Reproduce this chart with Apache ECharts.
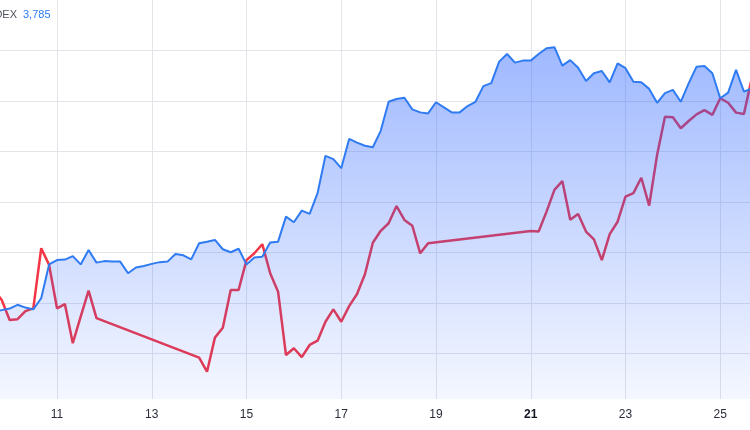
<!DOCTYPE html>
<html><head><meta charset="utf-8">
<script src="https://cdn.jsdelivr.net/npm/echarts@6/dist/echarts.min.js"></script>
<style>html,body{margin:0;padding:0;background:#fff}#c{width:750px;height:430px}</style>
</head><body><div id="c"></div>
<script>
// x tick labels (day of month) and the emphasised one
const dayTicks = [11, 13, 15, 17, 19, 21, 23, 25];
const boldTick = 21;
// 4-hour bars: first visible bar time (day) and step (days)
const firstDay = 9 + 2 / 3;
const barStep = 1 / 6;
// legend texts
const legendName = 'DEX';
const legendValue = '3,785';
// main series (blue area), one value per 4-hour bar
const blueValues = [
  3696.5, 3697.2, 3697.8, 3699.3, 3698.2, 3697.5, 3701.9, 3715.3,
  3717.0, 3717.2, 3718.6, 3715.3, 3721.0, 3716.0, 3716.6, 3716.4,
  3716.4, 3711.8, 3714.1, 3714.7, 3715.5, 3716.2, 3716.4, 3719.4,
  3718.9, 3717.3, 3723.7, 3724.3, 3725.0, 3721.3, 3720.1, 3721.5,
  3715.3, 3718.0, 3718.3, 3724.0, 3724.3, 3734.2, 3732.0, 3736.6,
  3735.3, 3743.5, 3758.3, 3757.0, 3753.4, 3765.0, 3763.5, 3762.3,
  3761.7, 3768.2, 3779.7, 3780.8, 3781.3, 3776.7, 3775.5, 3775.1,
  3779.5, 3777.5, 3775.5, 3775.5, 3778.0, 3779.7, 3785.9, 3787.1,
  3795.6, 3798.6, 3795.2, 3796.0, 3796.0, 3798.6, 3800.9, 3801.3,
  3794.0, 3796.2, 3793.2, 3787.9, 3791.0, 3791.9, 3787.4, 3794.9,
  3793.0, 3787.6, 3787.4, 3784.8, 3779.3, 3783.1, 3784.4, 3779.7,
  3787.0, 3793.6, 3793.9, 3791.0, 3781.1, 3783.3, 3792.3, 3783.7,
  3785.0
];
// comparison series (red line), null = no trading (weekend)
const redValues = [
  3705.2, 3701.2, 3693.3, 3693.6, 3696.8, 3697.9, 3721.7, 3715.1,
  3697.9, 3699.6, 3684.1, 3694.6, 3704.9, 3694.0,
  null, null, null, null, null, null, null, null, null, null, null, null,
  3678.4, 3672.8, 3686.3, 3690.2, 3705.2, 3705.2, 3717.0, 3719.7,
  3723.3, 3711.8, 3704.5, 3679.4, 3682.1, 3678.6, 3683.4, 3685.1,
  3692.6, 3697.5, 3692.6, 3698.8, 3703.6, 3711.4, 3723.9, 3728.6,
  3731.6, 3738.4, 3732.9, 3730.6, 3719.7, 3723.7,
  null, null, null, null, null, null, null, null, null, null, null, null,
  3728.5, 3728.3, 3736.2, 3744.8, 3748.3, 3733.0, 3735.3, 3728.3,
  3725.2, 3717.0, 3727.3, 3732.2, 3742.1, 3743.5, 3749.6, 3738.6,
  3758.6, 3773.8, 3773.6, 3769.2, 3772.1, 3774.7, 3776.4, 3774.5,
  3781.1, 3779.3, 3775.4, 3774.9, 3789.1
];

const blueData = blueValues.map((v, i) => [firstDay + i * barStep, v]);
const redData = redValues.map((v, i) => v == null ? null : [firstDay + i * barStep, v]).filter(Boolean);

const chart = echarts.init(document.getElementById('c'), null, {renderer: 'canvas'});
chart.setOption({
  animation: false,
  backgroundColor: '#ffffff',
  grid: {left: -37.75, right: -65, top: 0, bottom: 31, outerBoundsMode: 'none', containLabel: false},
  xAxis: {
    type: 'value', min: 9, max: 27, interval: 2,
    axisLine: {show: false}, axisTick: {show: false},
    splitLine: {show: true, lineStyle: {color: '#e3e4ea', width: 1}},
    axisLabel: {
      margin: 10, fontSize: 12, fontFamily: 'Liberation Sans', color: '#2a2e39',
      formatter: v => {
        const d = Math.round(v);
        if (!dayTicks.includes(d)) return '';
        return d === boldTick ? '{b|' + d + '}' : String(d);
      },
      rich: {b: {fontWeight: 'bold', fontSize: 12, fontFamily: 'Liberation Sans', color: '#131722'}}
    }
  },
  yAxis: {
    type: 'value', min: 3662, max: 3820, splitNumber: 8, minInterval: 20, maxInterval: 20,
    axisLine: {show: false}, axisTick: {show: false}, axisLabel: {show: false},
    splitLine: {show: true, showMinLine: false, showMaxLine: false, lineStyle: {color: '#e3e4ea', width: 1}}
  },
  graphic: [
    {type: 'text', x: 17, y: 15, style: {text: legendName, fontSize: 11, fontFamily: 'Liberation Sans', fill: '#50535e', align: 'right', verticalAlign: 'middle'}},
    {type: 'text', x: 23, y: 15, style: {text: legendValue, fontSize: 11, fontFamily: 'Liberation Sans', fill: '#2f7bf2', align: 'left', verticalAlign: 'middle'}}
  ],
  series: [
    {
      type: 'line', data: redData, showSymbol: false, symbol: 'none',
      lineStyle: {color: '#f23645', width: 2.5}, z: 2
    },
    {
      type: 'line', data: blueData, showSymbol: false, symbol: 'none',
      lineStyle: {color: '#2f7bf2', width: 2},
      areaStyle: {
        color: new echarts.graphic.LinearGradient(0, 0, 0, 1, [
          {offset: 0, color: 'rgba(41,98,255,0.64)'},
          {offset: 1, color: 'rgba(41,98,255,0.07)'}
        ])
      },
      z: 3
    }
  ]
});
</script>
</body></html>
